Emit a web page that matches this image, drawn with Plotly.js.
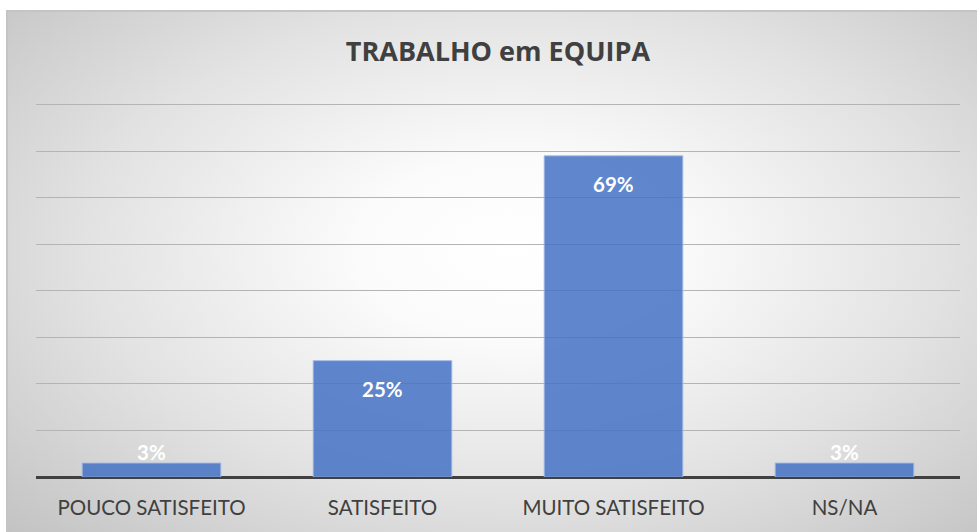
<!DOCTYPE html>
<html>
<head>
<meta charset="utf-8">
<script src="https://cdn.plot.ly/plotly-3.0.1.min.js"></script>
<style>
  html, body { margin: 0; padding: 0; background: #ffffff; }
  #wrap { position: relative; width: 977px; height: 532px; overflow: hidden; }
  #frame { position: absolute; left: 6px; top: 10px; width: 975px; height: 530px;
    border-top: 2px solid #c4c4c4; border-left: 2px solid #c4c4c4; box-sizing: border-box;
    background: radial-gradient(ellipse farthest-corner at 52% 45%, #ffffff 0%, #fbfbfb 22%, #e2e2e2 60%, #c2c2c2 100%); }
  #chart { position: absolute; left: 0; top: 0; width: 977px; height: 532px; }
</style>
</head>
<body>
<div id="wrap">
  <div id="frame"></div>
  <div id="chart"></div>
</div>
<script>
const categories = ["POUCO SATISFEITO", "SATISFEITO", "MUITO SATISFEITO", "NS/NA"];
const values = [0.03, 0.25, 0.69, 0.03];
const labels = ["3%", "25%", "69%", "3%"];
const chartTitle = "TRABALHO em EQUIPA";

const annotations = categories.map((c, i) => ({
  x: c, y: values[i], xref: 'x', yref: 'y',
  text: '<b>' + labels[i] + '</b>', showarrow: false,
  yanchor: 'middle', yshift: values[i] >= 0.1 ? -28 : 11,
  font: { family: 'Lato, sans-serif', size: 20.5, color: '#ffffff' }
}));

const trace = {
  type: 'bar', x: categories, y: values,
  marker: { color: 'rgba(68,114,196,0.85)', line: { color: 'rgba(160,185,230,0.9)', width: 1 } },
  hoverinfo: 'none'
};

const layout = {
  width: 977, height: 532,
  paper_bgcolor: 'rgba(0,0,0,0)', plot_bgcolor: 'rgba(0,0,0,0)',
  margin: { l: 35.5, r: 16.5, t: 99.5, b: 55, pad: 0 },
  bargap: 0.4,
  showlegend: false,
  title: { text: '<b>' + chartTitle + '</b>', x: 0.5, xanchor: 'center', xref: 'paper', y: 1 - 52/532, yanchor: 'middle', yref: 'container',
    font: { family: '"Open Sans", sans-serif', size: 27, color: '#404040' } },
  xaxis: { type: 'category', showgrid: false, zeroline: false, showline: false,
    ticks: '', ticklen: 0, ticklabelstandoff: 16,
    tickfont: { family: 'Lato, sans-serif', size: 20.5, color: '#404040' } },
  yaxis: { range: [0, 0.81], tick0: 0, dtick: 0.1, showticklabels: false, showgrid: true,
    gridcolor: '#b4b4b4', gridwidth: 1, zeroline: true, zerolinecolor: '#404040', zerolinewidth: 3,
    showline: false, ticks: '' },
  annotations: annotations
};

Plotly.newPlot('chart', [trace], layout, { staticPlot: true, displayModeBar: false });
</script>
</body>
</html>
